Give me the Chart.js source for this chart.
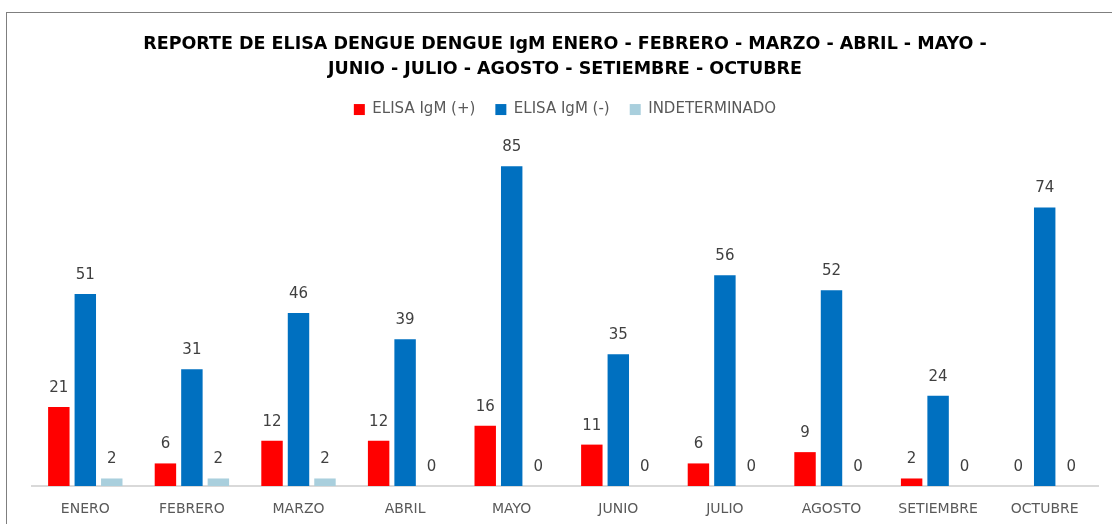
<!DOCTYPE html>
<html>
<head>
<meta charset="utf-8">
<script src="https://cdn.jsdelivr.net/npm/chart.js@4"></script>
<style>
  html, body { margin: 0; padding: 0; background: #fff; overflow: hidden; }
  #wrap { position: relative; width: 1112px; height: 524px; }
  #marco {
    position: absolute; left: 6px; top: 12px; width: 1200px; height: 600px;
    border: 1.5px solid #7f7f7f; pointer-events: none;
  }
</style>
</head>
<body>
<div id="wrap">
  <canvas id="grafico"></canvas>
  <div id="marco"></div>
</div>
<script>
const meses = ["ENERO", "FEBRERO", "MARZO", "ABRIL", "MAYO", "JUNIO", "JULIO", "AGOSTO", "SETIEMBRE", "OCTUBRE"];
const positivos = [21, 6, 12, 12, 16, 11, 6, 9, 2, 0];
const negativos = [51, 31, 46, 39, 85, 35, 56, 52, 24, 74];
const indeterminados = [2, 2, 2, 0, 0, 0, 0, 0, 0, 0];

const fuente = "'DejaVu Sans', Arial, sans-serif";

// etiquetas de valor encima de cada barra
const etiquetasValor = {
  id: 'etiquetasValor',
  afterDatasetsDraw(chart) {
    const ctx = chart.ctx;
    ctx.save();
    ctx.font = `15px ${fuente}`;
    ctx.fillStyle = '#404040';
    ctx.textAlign = 'center';
    ctx.textBaseline = 'middle';
    chart.data.datasets.forEach((ds, i) => {
      chart.getDatasetMeta(i).data.forEach((bar, j) => {
        ctx.fillText(ds.data[j], bar.x, bar.y - 19);
      });
    });
    ctx.restore();
  }
};

new Chart(document.getElementById('grafico'), {
  type: 'bar',
  data: {
    labels: meses,
    datasets: [
      { label: 'ELISA IgM (+)', data: positivos, backgroundColor: '#FF0000' },
      { label: 'ELISA IgM (-)', data: negativos, backgroundColor: '#0070C0' },
      { label: 'INDETERMINADO', data: indeterminados, backgroundColor: '#A9CFDD' }
    ]
  },
  options: {
    responsive: true,
    maintainAspectRatio: false,
    animation: false,
    categoryPercentage: 0.745,
    barPercentage: 0.81,
    layout: { padding: { left: 32, right: 14, top: 0, bottom: 0 } },
    plugins: {
      title: {
        display: true,
        text: [
          'REPORTE DE ELISA DENGUE DENGUE IgM ENERO - FEBRERO - MARZO - ABRIL - MAYO -',
          'JUNIO - JULIO - AGOSTO - SETIEMBRE - OCTUBRE'
        ],
        color: '#000',
        font: { family: fuente, size: 17.5, weight: 'bold', lineHeight: 1.43 },
        padding: { top: 32, bottom: 0 }
      },
      legend: {
        position: 'top',
        labels: {
          color: '#595959',
          font: { family: fuente, size: 15 },
          boxWidth: 11,
          boxHeight: 11,
          padding: 20
        }
      },
      tooltip: { enabled: false }
    },
    scales: {
      x: {
        grid: { display: false, drawTicks: false },
        border: { display: true, color: '#d9d9d9', width: 2 },
        ticks: { color: '#595959', font: { family: fuente, size: 14 }, padding: 15, maxRotation: 0 },
        afterFit(scale) { scale.height = 38; }
      },
      y: {
        display: false,
        min: 0,
        max: 95.4
      }
    }
  },
  plugins: [etiquetasValor]
});
</script>
</body>
</html>
